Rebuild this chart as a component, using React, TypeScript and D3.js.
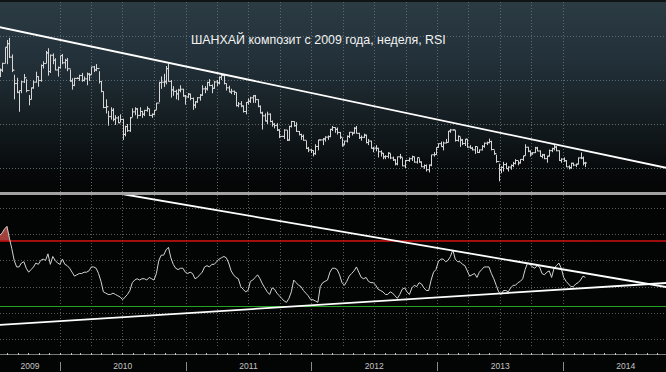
import React from 'react'
import * as d3 from 'd3'

const TITLE = 'ШАНХАЙ композит с 2009 года, неделя, RSI'
const FIRST_WEEK = '2009-07-10'

// weekly Shanghai Composite, one value per week from FIRST_WEEK
const closes = [
  3113, 3189, 3372, 3412, 3260, 3112, 2960, 2860, 2880, 2979,
  3026, 2880, 2779, 2911, 2976, 3039, 2995, 3164, 3187, 3308,
  3096, 3281, 3225, 3114, 3141, 3277, 3196, 3224, 3128, 2989,
  2939, 3018, 3018, 3051, 2996, 3013, 3067, 3059, 3148, 3114,
  3130, 2983, 2870, 2688, 2697, 2584, 2656, 2553, 2569, 2514,
  2552, 2382, 2470, 2424, 2572, 2638, 2672, 2598, 2642, 2611,
  2655, 2675, 2598, 2610, 2656, 2738, 2971, 2975, 2979, 3129,
  2985, 2888, 2871, 2842, 2885, 2895, 2819, 2808, 2839, 2791,
  2715, 2752, 2798, 2828, 2899, 2900, 2971, 2937, 2906, 2977,
  2967, 3030, 3050, 2960, 2911, 2863, 2872, 2859, 2709, 2728,
  2705, 2642, 2746, 2759, 2797, 2820, 2777, 2701, 2626, 2593,
  2534, 2612, 2528, 2497, 2482, 2432, 2359, 2359, 2431, 2317,
  2473, 2528, 2481, 2416, 2380, 2360, 2315, 2224, 2205, 2199,
  2163, 2244, 2319, 2319, 2330, 2351, 2357, 2439, 2460, 2439,
  2404, 2349, 2262, 2306, 2359, 2406, 2397, 2452, 2394, 2345,
  2349, 2373, 2289, 2306, 2224, 2226, 2223, 2185, 2168, 2128,
  2132, 2168, 2114, 2092, 2047, 2127, 2123, 2024, 2086, 2086,
  2105, 2128, 2067, 2118, 2069, 2014, 2028, 1980, 2033, 2150,
  2153, 2233, 2276, 2243, 2284, 2291, 2419, 2432, 2432, 2314,
  2359, 2318, 2278, 2328, 2237, 2225, 2206, 2244, 2177, 2205,
  2246, 2282, 2288, 2301, 2210, 2162, 2073, 1979, 2007, 2039,
  1992, 2010, 2029, 2052, 2085, 2057, 2098, 2139, 2236, 2191,
  2160, 2174, 2228, 2193, 2132, 2149, 2106, 2135, 2197, 2220,
  2238, 2196, 2085, 2101, 2083, 2013, 2004, 2054, 2033, 2044,
  2115, 2113, 2056, 2057
]

const highs = [
  3130, 3196, 3372, 3455, 3478, 3290, 3060, 3025, 2880, 2990,
  3068, 3010, 2830, 2915, 2996, 3094, 3042, 3177, 3213, 3330,
  3361, 3290, 3302, 3247, 3153, 3277, 3295, 3240, 3250, 3120,
  3020, 3025, 3030, 3060, 3080, 3040, 3085, 3080, 3150, 3160,
  3181, 3100, 2990, 2870, 2780, 2650, 2690, 2680, 2600, 2590,
  2610, 2560, 2480, 2500, 2580, 2678, 2690, 2680, 2690, 2650,
  2660, 2700, 2670, 2620, 2660, 2740, 2980, 3040, 3070, 3159,
  3186, 3000, 2930, 2890, 2900, 2940, 2900, 2830, 2852, 2845,
  2800, 2760, 2805, 2840, 2940, 2930, 2980, 3010, 2950, 2990,
  3000, 3040, 3060, 3067, 2960, 2935, 2900, 2880, 2860, 2750,
  2760, 2710, 2750, 2790, 2810, 2827, 2830, 2780, 2710, 2640,
  2620, 2640, 2620, 2540, 2510, 2510, 2440, 2365, 2440, 2430,
  2480, 2536, 2530, 2520, 2420, 2390, 2380, 2310, 2240, 2220,
  2200, 2270, 2320, 2325, 2340, 2360, 2370, 2445, 2478, 2462,
  2460, 2410, 2340, 2310, 2370, 2410, 2410, 2464, 2478, 2400,
  2370, 2390, 2380, 2330, 2310, 2240, 2260, 2230, 2200, 2170,
  2145, 2180, 2165, 2130, 2100, 2130, 2160, 2120, 2090, 2090,
  2120, 2140, 2130, 2120, 2110, 2075, 2040, 2040, 2040, 2150,
  2180, 2235, 2280, 2300, 2300, 2330, 2420, 2444, 2440, 2430,
  2370, 2350, 2330, 2330, 2330, 2260, 2240, 2250, 2240, 2210,
  2260, 2290, 2300, 2334, 2310, 2200, 2150, 2050, 2020, 2070,
  2060, 2020, 2040, 2070, 2100, 2080, 2100, 2140, 2270, 2240,
  2200, 2180, 2240, 2240, 2200, 2160, 2160, 2140, 2210, 2230,
  2260, 2250, 2200, 2110, 2120, 2090, 2030, 2060, 2060, 2050,
  2120, 2177, 2130, 2070
]

const lows = [
  3033, 3090, 3190, 3180, 3250, 3090, 2780, 2850, 2639, 2850,
  2966, 2860, 2712, 2780, 2900, 2970, 2923, 2980, 3130, 3190,
  3050, 3080, 3180, 3110, 3039, 3130, 3180, 3130, 3100, 2980,
  2890, 2930, 3010, 2990, 2980, 2985, 2940, 2990, 3060, 3090,
  3100, 2960, 2860, 2680, 2620, 2481, 2550, 2530, 2490, 2510,
  2520, 2319, 2360, 2410, 2410, 2580, 2600, 2560, 2590, 2570,
  2590, 2640, 2590, 2570, 2600, 2660, 2750, 2900, 2920, 2950,
  2980, 2800, 2820, 2780, 2770, 2860, 2810, 2720, 2795, 2770,
  2661, 2680, 2740, 2765, 2820, 2850, 2880, 2930, 2850, 2900,
  2930, 2950, 3000, 2950, 2880, 2860, 2840, 2830, 2700, 2690,
  2690, 2630, 2610, 2720, 2740, 2740, 2740, 2690, 2620, 2437,
  2530, 2500, 2520, 2470, 2450, 2420, 2340, 2355, 2330, 2307,
  2310, 2460, 2470, 2410, 2370, 2320, 2310, 2215, 2180, 2170,
  2132, 2150, 2200, 2312, 2260, 2300, 2320, 2350, 2420, 2400,
  2380, 2330, 2242, 2260, 2290, 2340, 2370, 2390, 2390, 2330,
  2310, 2340, 2280, 2260, 2220, 2180, 2190, 2120, 2130, 2100,
  2100, 2110, 2100, 2080, 2030, 2030, 2100, 2020, 2000, 2080,
  2070, 2080, 2060, 2050, 2060, 2010, 1990, 1960, 1949, 2020,
  2130, 2150, 2230, 2240, 2200, 2280, 2290, 2400, 2425, 2300,
  2300, 2240, 2260, 2250, 2230, 2220, 2200, 2160, 2170, 2170,
  2200, 2230, 2260, 2280, 2200, 2150, 2060, 1849, 1940, 1960,
  1990, 1960, 1980, 2010, 2040, 2030, 2050, 2080, 2140, 2180,
  2130, 2150, 2170, 2190, 2130, 2110, 2100, 2060, 2130, 2180,
  2200, 2190, 2080, 2060, 2070, 2010, 1984, 1990, 2020, 2010,
  2040, 2100, 2030, 2010
]

const rsi = [
  79, 81, 84, 86, 77, 69, 60, 55, 55, 58,
  59, 54, 51, 53, 55, 58, 57, 60, 61, 60,
  65, 57, 63, 60, 58, 57, 61, 57, 56, 54,
  51, 48, 49, 50, 50, 51, 51, 52, 55, 55,
  54, 50, 44, 36, 35, 34, 34, 35, 34, 33,
  32, 30, 32, 34, 37, 43, 45, 46, 45, 46,
  46, 45, 47, 46, 45, 50, 60, 64, 64, 68,
  70, 62, 57, 54, 53, 54, 54, 51, 50, 51,
  50, 46, 47, 49, 51, 55, 56, 55, 57, 57,
  59, 61, 62, 63, 62, 58, 52, 49, 47, 46,
  40, 38, 36, 37, 44, 45, 47, 49, 46, 42,
  39, 36, 34, 39, 38, 35, 33, 31, 29, 28,
  31, 36, 45, 43, 41, 40, 37, 35, 33, 30,
  30, 29, 28, 40, 43, 44, 45, 51, 54, 54,
  53, 49, 43, 41, 44, 48, 50, 52, 55, 51,
  47, 46, 47, 44, 43, 43, 41, 38, 37, 36,
  34, 34, 36, 35, 33, 31, 34, 38, 39, 36,
  34, 39, 41, 40, 43, 42, 39, 37, 37, 45,
  51, 53, 59, 61, 61, 59, 60, 63, 68, 61,
  59, 59, 57, 56, 52, 48, 49, 50, 47, 51,
  53, 55, 55, 55, 50, 46, 41, 36, 34, 37,
  37, 36, 39, 41, 41, 43, 44, 46, 53, 58,
  57, 55, 54, 56, 55, 50, 49, 51, 52, 47,
  54, 56, 58, 54, 47, 44, 42, 40, 40, 42,
  43, 45, 48, 47
]

const priceTicks = [2000, 2500, 3000, 3500]
const rsiTicks = [0, 20, 40, 60, 80, 100]
const RSI_HIGH = 75
const RSI_LOW = 25

// trend lines: [date, value]
const priceTrend: [string, number][] = [['2009-07-10', 3600], ['2014-10-31', 2000]]
const rsiTrendTop: [string, number][] = [['2010-07-05', 110.5], ['2014-10-31', 39.5]]
const rsiTrendBottom: [string, number][] = [['2009-07-10', 10.7], ['2014-10-31', 42.8]]

const W = 666
const H = 372

export default function App() {
  const priceBottom = 192
  const rsiTop = 195
  const axisY = 354

  const x = d3
    .scaleUtc()
    .domain([new Date(Date.UTC(2010, 0, 1)), new Date(Date.UTC(2014, 0, 1))])
    .range([60, 563])
  const yP = d3.scaleLinear().domain([2000, 3500]).range([168, 36])
  const yR = d3.scaleLinear().domain([0, 100]).range([339, 208])

  const start = d3.utcParse('%Y-%m-%d')(FIRST_WEEK) as Date
  const n = Math.min(closes.length, highs.length, lows.length, rsi.length)
  const weeks = d3.range(n).map(i => ({
    date: d3.utcDay.offset(start, i * 7),
    open: i > 0 ? closes[i - 1] : closes[0],
    high: highs[i],
    low: lows[i],
    close: closes[i],
    rsi: rsi[i]
  }))

  const t0 = x.invert(0)
  const t1 = x.invert(W)
  const quarters = x.ticks(d3.utcMonth.every(3) as d3.TimeInterval)
  const months = d3.utcMonth.range(t0, t1)
  const years = d3.utcYear.range(d3.utcYear.floor(t0), t1)

  const bars = weeks
    .map(d => {
      const cx = Math.round(x(d.date)) + 0.5
      return (
        `M${cx},${yP(d.high)}V${yP(d.low)}` +
        `M${cx - 1.5},${yP(d.open)}H${cx}` +
        `M${cx},${yP(d.close)}H${cx + 1.5}`
      )
    })
    .join('')

  const rsiLine = d3
    .line<(typeof weeks)[number]>()
    .x(d => x(d.date))
    .y(d => yR(d.rsi))(weeks)

  const rsiArea = d3
    .area<(typeof weeks)[number]>()
    .x(d => x(d.date))
    .y0(yR(RSI_HIGH))
    .y1(d => yR(d.rsi))(weeks)

  const trend = (pts: [string, number][], y: d3.ScaleLinear<number, number>) =>
    d3
      .line<[string, number]>()
      .x(p => x(d3.utcParse('%Y-%m-%d')(p[0]) as Date))
      .y(p => y(p[1]))(pts)

  const dot = '1,2'

  return (
    <svg width={W} height={H} style={{ display: 'block', background: '#030404' }}>
      <style>{'body{margin:0;background:#000}'}</style>
      <defs>
        <linearGradient id="bgTop" x1="0" y1="0" x2="0" y2="1">
          <stop offset="0" stopColor="#2c3c43" />
          <stop offset="0.3" stopColor="#23313a" />
          <stop offset="0.55" stopColor="#182227" />
          <stop offset="0.8" stopColor="#0c1113" />
          <stop offset="0.9" stopColor="#060809" />
          <stop offset="1" stopColor="#040505" />
        </linearGradient>
        <linearGradient id="redFill" x1="0" y1="0" x2="0" y2="1">
          <stop offset="0" stopColor="#a8443f" />
          <stop offset="1" stopColor="#7a2826" />
        </linearGradient>
        <clipPath id="clipPrice">
          <rect x={0} y={0} width={W} height={priceBottom} />
        </clipPath>
        <clipPath id="clipRsi">
          <rect x={0} y={rsiTop} width={W} height={axisY - rsiTop} />
        </clipPath>
        <clipPath id="clipOver">
          <rect x={0} y={rsiTop} width={W} height={yR(RSI_HIGH) - rsiTop} />
        </clipPath>
      </defs>

      {/* price panel */}
      <rect x={0} y={0} width={W} height={priceBottom} fill="url(#bgTop)" />
      <rect x={0} y={0} width={W} height={2} fill="#101415" />
      <g clipPath="url(#clipPrice)">
        {quarters.map((q, i) => (
          <line
            key={i}
            x1={Math.round(x(q)) + 0.5}
            x2={Math.round(x(q)) + 0.5}
            y1={2}
            y2={priceBottom}
            stroke="#5b686d"
            strokeDasharray={dot}
          />
        ))}
        {priceTicks.map(v => (
          <line
            key={v}
            x1={0}
            x2={W}
            y1={Math.round(yP(v)) + 0.5}
            y2={Math.round(yP(v)) + 0.5}
            stroke="#5b686d"
            strokeDasharray={dot}
          />
        ))}
        <path d={bars} stroke="#d6d6d6" strokeWidth={1} fill="none" />
        <path d={trend(priceTrend, yP) || ''} stroke="#ffffff" strokeWidth={1.8} fill="none" />
        <text
          x={191}
          y={44}
          fill="#f2f2f2"
          fontSize={12.4}
          fontFamily="'Liberation Sans', Arial, sans-serif"
        >
          {TITLE}
        </text>
      </g>

      {/* separator */}
      <rect x={0} y={priceBottom} width={W} height={rsiTop - priceBottom} fill="#a2a2a2" />

      {/* RSI panel */}
      <g clipPath="url(#clipRsi)">
        {quarters.map((q, i) => (
          <line
            key={i}
            x1={Math.round(x(q)) + 0.5}
            x2={Math.round(x(q)) + 0.5}
            y1={rsiTop}
            y2={axisY - 6}
            stroke="#5a5a5a"
            strokeDasharray={dot}
          />
        ))}
        {rsiTicks.map(v => (
          <line
            key={v}
            x1={0}
            x2={W}
            y1={Math.round(yR(v)) + 0.5}
            y2={Math.round(yR(v)) + 0.5}
            stroke="#5a5a5a"
            strokeDasharray={dot}
          />
        ))}
        <path d={rsiArea || ''} fill="url(#redFill)" clipPath="url(#clipOver)" />
        <line
          x1={0}
          x2={W}
          y1={Math.round(yR(RSI_HIGH))}
          y2={Math.round(yR(RSI_HIGH))}
          stroke="#d01212"
          strokeWidth={1.5}
        />
        <line
          x1={0}
          x2={W}
          y1={Math.round(yR(RSI_LOW)) + 0.5}
          y2={Math.round(yR(RSI_LOW)) + 0.5}
          stroke="#22a422"
          strokeWidth={1.2}
        />
        <path d={rsiLine || ''} stroke="#d2d2d2" strokeWidth={1} fill="none" />
        <path d={trend(rsiTrendTop, yR) || ''} stroke="#ffffff" strokeWidth={1.8} fill="none" />
        <path d={trend(rsiTrendBottom, yR) || ''} stroke="#ffffff" strokeWidth={1.8} fill="none" />
      </g>

      {/* time axis */}
      <line x1={0} x2={W} y1={axisY + 0.5} y2={axisY + 0.5} stroke="#7a7a7a" />
      {months.map((m, i) => (
        <rect key={i} x={Math.round(x(m))} y={axisY - 1} width={1} height={2} fill="#c8c8c8" />
      ))}
      {years.map((yr, i) => {
        const a = x(yr)
        const b = x(d3.utcYear.offset(yr, 1))
        const cx = (Math.max(a, 0) + b) / 2
        return (
          <g key={i}>
            {a > 0 && (
              <line
                x1={Math.round(a) + 0.5}
                x2={Math.round(a) + 0.5}
                y1={362}
                y2={371}
                stroke="#8a8a8a"
              />
            )}
            <text
              x={cx}
              y={369}
              textAnchor="middle"
              fill="#c4c4c4"
              fontSize={8.5}
              fontFamily="'Liberation Sans', Arial, sans-serif"
            >
              {yr.getUTCFullYear()}
            </text>
          </g>
        )
      })}
    </svg>
  )
}
